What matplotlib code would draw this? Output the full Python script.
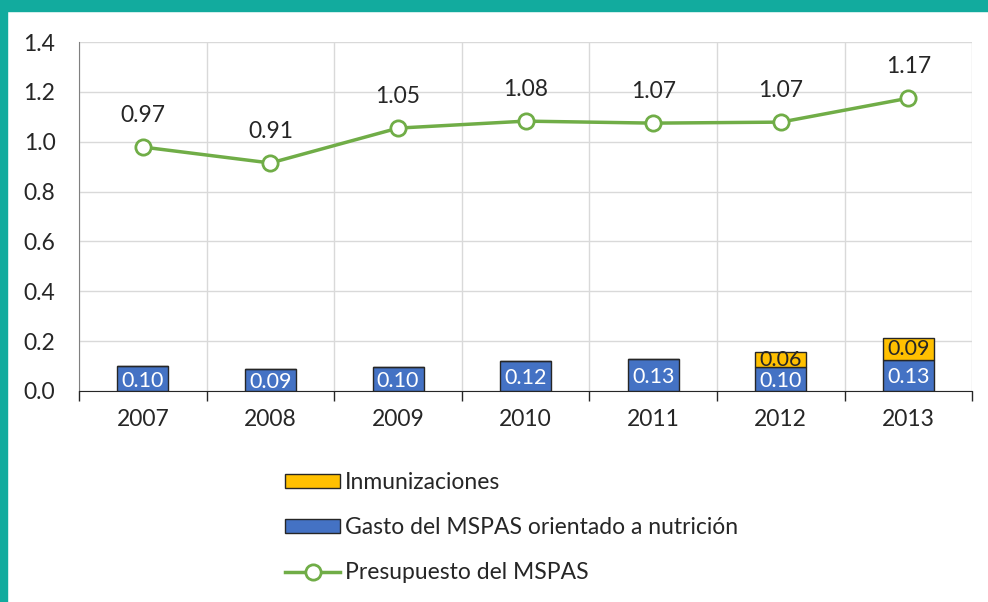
import numpy as np
import matplotlib.pyplot as plt
from matplotlib.patches import Patch, Rectangle
from matplotlib.lines import Line2D

plt.rcParams['font.family'] = ['Lato', 'DejaVu Sans']

years = ['2007', '2008', '2009', '2010', '2011', '2012', '2013']
gasto = [0.10, 0.088, 0.097, 0.12, 0.128, 0.098, 0.125]
inmun = [0, 0, 0, 0, 0, 0.058, 0.088]
gasto_lbl = ['0.10', '0.09', '0.10', '0.12', '0.13', '0.10', '0.13']
inmun_lbl = ['', '', '', '', '', '0.06', '0.09']
presup = [0.979, 0.915, 1.055, 1.083, 1.075, 1.079, 1.175]
presup_lbl = ['0.97', '0.91', '1.05', '1.08', '1.07', '1.07', '1.17']

blue = '#4472C4'
yellow = '#FFC000'
green = '#70AD47'
teal = '#12AB9E'
txt = '#262626'

fig = plt.figure(figsize=(9.88, 6.02), dpi=100)
ax = fig.add_axes([0.080, 0.3505, 0.904, 0.5795])

x = np.arange(len(years))
ax.bar(x, gasto, width=0.4, color=blue, edgecolor='#262626', linewidth=1, zorder=3)
ax.bar(x, inmun, width=0.4, bottom=gasto, color=yellow, edgecolor='#262626', linewidth=1, zorder=3)
for i in range(len(years)):
    ax.text(x[i], gasto[i] / 2 - 0.008, gasto_lbl[i], ha='center', va='center',
            color='white', fontsize=15.5, zorder=5)
    if inmun_lbl[i]:
        ax.text(x[i], gasto[i] + inmun[i] / 2 - 0.002, inmun_lbl[i], ha='center', va='center',
                color=txt, fontsize=15.5, zorder=5)

ax.plot(x, presup, color=green, lw=2.5, marker='o', ms=11, mfc='white', mec=green, mew=2, zorder=4)
for i in range(len(years)):
    ax.annotate(presup_lbl[i], (x[i], presup[i]), xytext=(0, 23), textcoords='offset points',
                ha='center', va='center', fontsize=16.5, color=txt)

ax.set_xlim(-0.5, 6.5)
ax.set_ylim(0, 1.4)
ax.set_yticks(np.arange(0, 1.41, 0.2))
ax.set_yticklabels([f'{v:.1f}' for v in np.arange(0, 1.41, 0.2)])
ax.set_xticks(x)
ax.set_xticklabels(years)
ax.set_xticks(np.arange(-0.5, 6.6, 1), minor=True)
ax.tick_params(axis='x', which='major', length=0, pad=13, labelsize=16.5, colors=txt)
ax.tick_params(axis='x', which='minor', length=7, width=1, color='#262626')
ax.tick_params(axis='y', length=0, pad=17, labelsize=16.5, colors=txt)
ax.grid(axis='y', which='major', color='#D9D9D9', lw=1, zorder=0)
ax.grid(axis='x', which='minor', color='#D9D9D9', lw=1, zorder=0)
for s in ['top', 'right']:
    ax.spines[s].set_visible(False)
ax.spines['left'].set_color('#808080')
ax.spines['bottom'].set_color('#262626')

handles = [Patch(facecolor=yellow, edgecolor='#262626', label='Inmunizaciones'),
           Patch(facecolor=blue, edgecolor='#262626', label='Gasto del MSPAS orientado a nutrición'),
           Line2D([0], [0], color=green, lw=2.5, marker='o', ms=11, mfc='white', mec=green, mew=2,
                  label='Presupuesto del MSPAS')]
fig.legend(handles=handles, loc='upper left', bbox_to_anchor=(0.268, 0.25), frameon=False,
           fontsize=16.5, handlelength=2.4, handleheight=0.6, handletextpad=0.2, labelspacing=1.05,
           labelcolor=txt)

fig.add_artist(Rectangle((0, 1 - 11 / 602), 1, 11 / 602, transform=fig.transFigure,
                         color=teal, zorder=10))
fig.add_artist(Rectangle((0, 0), 7 / 988, 1, transform=fig.transFigure, color=teal, zorder=10))

fig.savefig('out.png', dpi=100)
